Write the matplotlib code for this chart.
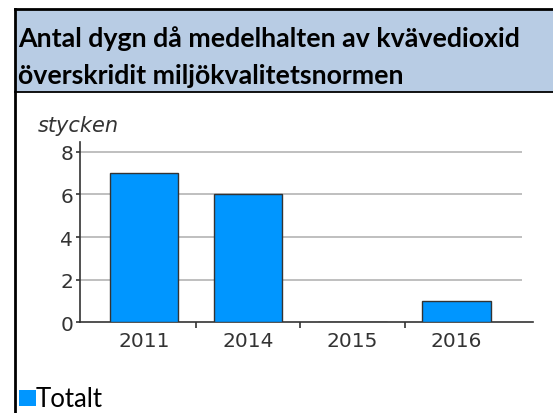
import matplotlib.pyplot as plt
import matplotlib.patches as mpatches
from matplotlib.lines import Line2D

# Data
years = ['2011', '2014', '2015', '2016']
values = [7, 6, 0, 1]
title_lines = ['Antal dygn då medelhalten av kvävedioxid',
               'överskridit miljökvalitetsnormen']
unit_label = 'stycken'
legend_label = 'Totalt'

W, H = 553, 414
fig = plt.figure(figsize=(W / 100, H / 100), dpi=100)


def fx(px):
    return px / W


def fy(py):
    return 1 - py / H


# Header box
fig.patches.append(mpatches.Rectangle((fx(15), fy(93)), fx(W), fy(10) - fy(93),
                                      transform=fig.transFigure, facecolor='#b8cce4',
                                      edgecolor='none', zorder=0))
fig.lines.append(Line2D([fx(15), 1], [fy(10), fy(10)], transform=fig.transFigure,
                        color='black', lw=2))
fig.lines.append(Line2D([fx(15), 1], [fy(93), fy(93)], transform=fig.transFigure,
                        color='black', lw=1.3))
fig.lines.append(Line2D([fx(15), fx(15)], [fy(10), 0], transform=fig.transFigure,
                        color='black', lw=2))

fig.text(fx(18), fy(47), title_lines[0], fontsize=19.3, fontweight='bold',
         family='Lato', va='baseline', ha='left', color='black')
fig.text(fx(18), fy(84), title_lines[1], fontsize=19.3, fontweight='bold',
         family='Lato', va='baseline', ha='left', color='black')

# Chart
ax_left, ax_right, ax_bottom, ax_top = 80, 533, 323.3, 142.7
ax = fig.add_axes([fx(ax_left), fy(ax_bottom), fx(ax_right - ax_left),
                   (ax_bottom - ax_top) / H])
x = list(range(len(years)))
ax.bar(x, values, width=0.657, color='#0096ff', edgecolor='#333333', lw=1, zorder=3)
ax.set_xlim(-0.614, 3.733)
ax.set_ylim(0, 8.47)
ax.hlines([2, 4, 6, 8], -0.614, 3.628, color='#b4b4b4', lw=1.2, zorder=1)

for s in ['top', 'right']:
    ax.spines[s].set_visible(False)
for s in ['left', 'bottom']:
    ax.spines[s].set_color('#333333')
    ax.spines[s].set_linewidth(1.2)

ax.set_yticks([0, 2, 4, 6, 8])
ax.set_xticks(x)
ax.set_xticklabels(years)
ax.set_xticks([0.5, 1.5, 2.5], minor=True)
ax.tick_params(axis='x', which='major', length=0, pad=6, labelsize=14.5, labelcolor='#333333')
ax.tick_params(axis='x', which='minor', length=4, width=1.2, color='#333333', direction='out')
ax.tick_params(axis='y', length=3, width=1.2, color='#333333', pad=2, labelsize=14.5,
               labelcolor='#333333')

fig.text(fx(38), fy(132), unit_label, fontsize=15, style='italic', color='#333333',
         va='baseline', ha='left')

# Legend
fig.patches.append(mpatches.Rectangle((fx(19), fy(407)), fx(17), fy(391) - fy(407),
                                      transform=fig.transFigure, facecolor='#0096ff',
                                      edgecolor='none'))
fig.text(fx(36), fy(407), legend_label, fontsize=18.5, family='Lato', va='baseline',
         ha='left', color='black')

fig.savefig('out.png', dpi=100)
